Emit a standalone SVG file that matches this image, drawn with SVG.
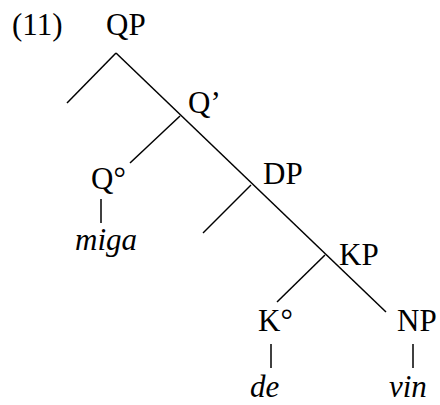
<svg xmlns="http://www.w3.org/2000/svg" width="440" height="405" viewBox="0 0 440 405">
<style>
.t{font-family:'Liberation Serif','Times New Roman',Times,serif;font-size:31px;fill:#000}
.it{font-style:italic}
line{stroke:#000;stroke-width:1.5;stroke-linecap:butt}
</style>
<rect width="440" height="405" fill="#fff"/>
<g id="connectors">
<line x1="116" y1="53" x2="386" y2="312"/>
<line x1="116" y1="53" x2="67" y2="103"/>
<line x1="180" y1="116" x2="130" y2="163"/>
<line x1="251" y1="185" x2="203" y2="233"/>
<line x1="325" y1="255" x2="277" y2="302"/>
<line x1="101" y1="199" x2="101" y2="223"/>
<line x1="271" y1="344" x2="271" y2="368"/>
<line x1="413" y1="344" x2="413" y2="368"/>
</g>
<g id="label11"><text class="t" x="12" y="35">(11)</text></g>
<g id="QP"><text class="t" x="106" y="35">QP</text></g>
<g id="Qbar"><text class="t" x="188" y="113">Q’</text></g>
<g id="Qhead"><text class="t" x="91" y="189">Q°</text></g>
<g id="miga"><text class="t it" x="75" y="250">miga</text></g>
<g id="DP"><text class="t" x="263" y="184">DP</text></g>
<g id="KP"><text class="t" x="339" y="265">KP</text></g>
<g id="Khead"><text class="t" x="258" y="331">K°</text></g>
<g id="NP"><text class="t" x="397" y="331">NP</text></g>
<g id="de"><text class="t it" x="250" y="397">de</text></g>
<g id="vin"><text class="t it" x="389" y="397">vin</text></g>
</svg>
